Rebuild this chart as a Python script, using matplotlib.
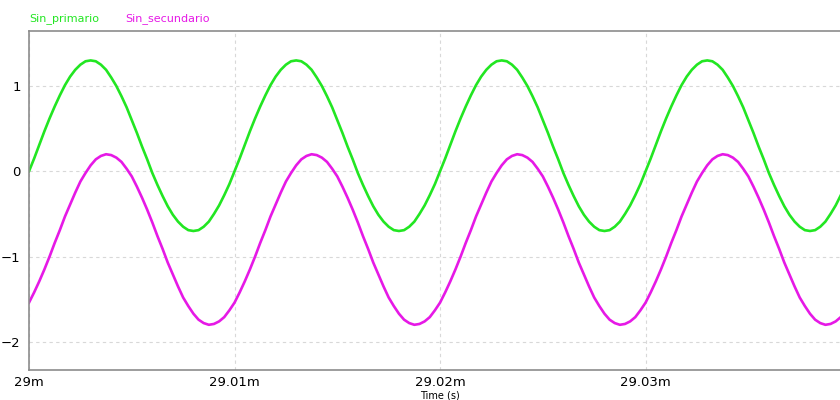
import numpy as np
import matplotlib.pyplot as plt

# Sampled waveforms, one sample every 0.00025 (x axis in "m" units)
t_start = 29.0
t_step = 0.00025

sin_primario = [
    0.00, 0.15, 0.31, 0.47, 0.62, 0.76, 0.89, 1.01, 1.11, 1.19,
    1.25, 1.29, 1.30, 1.29, 1.25, 1.19, 1.10, 1.00, 0.88, 0.75,
    0.60, 0.45, 0.29, 0.14, -0.02, -0.16, -0.29, -0.41, -0.51, -0.59,
    -0.65, -0.69, -0.70, -0.69, -0.65, -0.59, -0.50, -0.40, -0.28, -0.15,
    0.00, 0.15, 0.31, 0.47, 0.62, 0.76, 0.89, 1.01, 1.11, 1.19,
    1.25, 1.29, 1.30, 1.29, 1.25, 1.19, 1.10, 1.00, 0.88, 0.75,
    0.60, 0.45, 0.29, 0.14, -0.02, -0.16, -0.29, -0.41, -0.51, -0.59,
    -0.65, -0.69, -0.70, -0.69, -0.65, -0.59, -0.50, -0.40, -0.28, -0.15,
    0.00, 0.15, 0.31, 0.47, 0.62, 0.76, 0.89, 1.01, 1.11, 1.19,
    1.25, 1.29, 1.30, 1.29, 1.25, 1.19, 1.10, 1.00, 0.88, 0.75,
    0.60, 0.45, 0.29, 0.14, -0.02, -0.16, -0.29, -0.41, -0.51, -0.59,
    -0.65, -0.69, -0.70, -0.69, -0.65, -0.59, -0.50, -0.40, -0.28, -0.15,
    0.00, 0.15, 0.31, 0.47, 0.62, 0.76, 0.89, 1.01, 1.11, 1.19,
    1.25, 1.29, 1.30, 1.29, 1.25, 1.19, 1.10, 1.00, 0.88, 0.75,
    0.60, 0.45, 0.29, 0.14, -0.02, -0.16, -0.29, -0.41, -0.51, -0.59,
    -0.65, -0.69, -0.70, -0.69, -0.65, -0.59, -0.50, -0.40, -0.28, -0.15,
]

sin_secundario = [
    -1.54, -1.42, -1.29, -1.15, -1.00, -0.84, -0.69, -0.53, -0.39, -0.25,
    -0.12, -0.02, 0.07, 0.14, 0.18, 0.20, 0.19, 0.16, 0.11, 0.03,
    -0.06, -0.18, -0.31, -0.45, -0.60, -0.76, -0.91, -1.07, -1.21, -1.35,
    -1.48, -1.58, -1.67, -1.74, -1.78, -1.80, -1.79, -1.76, -1.71, -1.63,
    -1.54, -1.42, -1.29, -1.15, -1.00, -0.84, -0.69, -0.53, -0.39, -0.25,
    -0.12, -0.02, 0.07, 0.14, 0.18, 0.20, 0.19, 0.16, 0.11, 0.03,
    -0.06, -0.18, -0.31, -0.45, -0.60, -0.76, -0.91, -1.07, -1.21, -1.35,
    -1.48, -1.58, -1.67, -1.74, -1.78, -1.80, -1.79, -1.76, -1.71, -1.63,
    -1.54, -1.42, -1.29, -1.15, -1.00, -0.84, -0.69, -0.53, -0.39, -0.25,
    -0.12, -0.02, 0.07, 0.14, 0.18, 0.20, 0.19, 0.16, 0.11, 0.03,
    -0.06, -0.18, -0.31, -0.45, -0.60, -0.76, -0.91, -1.07, -1.21, -1.35,
    -1.48, -1.58, -1.67, -1.74, -1.78, -1.80, -1.79, -1.76, -1.71, -1.63,
    -1.54, -1.42, -1.29, -1.15, -1.00, -0.84, -0.69, -0.53, -0.39, -0.25,
    -0.12, -0.02, 0.07, 0.14, 0.18, 0.20, 0.19, 0.16, 0.11, 0.03,
    -0.06, -0.18, -0.31, -0.45, -0.60, -0.76, -0.91, -1.07, -1.21, -1.35,
    -1.48, -1.58, -1.67, -1.74, -1.78, -1.80, -1.79, -1.76, -1.71, -1.63,
]

x_ticks = [29.0, 29.01, 29.02, 29.03]
x_labels = ['29m', '29.01m', '29.02m', '29.03m']
y_ticks = [1, 0, -1, -2]

time = t_start + t_step * np.arange(len(sin_primario))

green = '#22e622'
magenta = '#e619e6'

fig = plt.figure(figsize=(8.4, 4), dpi=100)
ax = fig.add_axes([29 / 840, 30 / 400, 1 - 29 / 840, 339 / 400])

ax.plot(time, sin_primario, color=green, lw=1.9, solid_joinstyle='round')
ax.plot(time, sin_secundario, color=magenta, lw=1.9, solid_joinstyle='round')

ax.set_xlim(29.0, 29.03946)
ax.set_ylim(-2.33, 1.645)
ax.set_xticks(x_ticks)
ax.set_xticklabels(x_labels)
ax.set_yticks(y_ticks)
ax.tick_params(length=0, labelsize=9.5)
ax.tick_params(axis='x', pad=4)
ax.tick_params(axis='y', pad=6)
ax.grid(True, color='#d8d8d8', ls=(0, (3, 3)), lw=0.8)

for side in ['top', 'left', 'bottom']:
    ax.spines[side].set_color('#8c8c8c')
    ax.spines[side].set_linewidth(1.2)
ax.spines['right'].set_visible(False)

fig.text(440 / 840, 0, 'Time (s)', ha='center', va='bottom', fontsize=7)
fig.text(29 / 840, 1 - 19 / 400, 'Sin_primario', color=green, fontsize=8, va='center')
fig.text(125 / 840, 1 - 19 / 400, 'Sin_secundario', color=magenta, fontsize=8, va='center')

fig.savefig('out.png', dpi=100)
